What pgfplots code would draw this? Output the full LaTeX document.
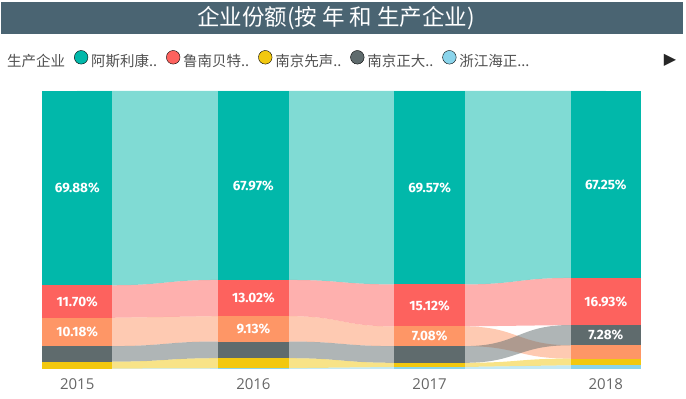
\documentclass[border=0pt]{standalone}
\usepackage{fontspec}
\usepackage{pgfplots}
\pgfplotsset{compat=1.18}
\setmainfont{Open Sans}
\newfontfamily\cjk{Noto Sans CJK SC}
\newfontfamily\labfont{Fira Sans}
\newfontfamily\symfont{DejaVu Sans}
\definecolor{tealc}{HTML}{01B8AA}
\definecolor{redc}{HTML}{FD625E}
\definecolor{yelc}{HTML}{F2C80F}
\definecolor{grayc}{HTML}{5F6B6D}
\definecolor{lbluec}{HTML}{8AD4EB}
\definecolor{orac}{HTML}{FE9666}
\definecolor{titlec}{HTML}{4A6472}
\definecolor{txtc}{HTML}{505050}
\definecolor{tickc}{HTML}{666666}
% plot handler: joins successive points by curves with horizontal tangents (ribbon edges)
\makeatletter
\def\pgfplothandlerribbon{%
  \def\pgf@plotstreamstart{%
    \global\let\pgf@plotstreampoint=\rib@first
    \global\let\pgf@plotstreamspecial=\pgfutil@gobble
    \global\let\pgf@plotstreamend=\pgfutil@empty}}
\def\rib@first#1{%
  \pgf@plot@first@action{#1}%
  \pgf@process{#1}%
  \xdef\rib@lx{\the\pgf@x}\xdef\rib@ly{\the\pgf@y}%
  \global\let\pgf@plotstreampoint=\rib@next}
\def\rib@next#1{%
  \pgf@process{#1}%
  \edef\rib@cx{\the\pgf@x}\edef\rib@cy{\the\pgf@y}%
  \pgf@xa=\rib@lx\relax \advance\pgf@xa by \rib@cx\relax \pgf@xa=0.5\pgf@xa
  \edef\rib@mx{\the\pgf@xa}%
  \pgfpathcurveto{\pgfqpoint{\rib@mx}{\rib@ly}}{\pgfqpoint{\rib@mx}{\rib@cy}}{\pgfqpoint{\rib@cx}{\rib@cy}}%
  \xdef\rib@lx{\rib@cx}\xdef\rib@ly{\rib@cy}}
\tikzset{ribbon curve/.code={\let\tikz@plot@handler=\pgfplothandlerribbon}}
\makeatother
% ribbon from year i (centre #2) to year j (centre #3):
% #1 colour, #4 top_i, #5 bottom_i, #6 top_j, #7 bottom_j ; bars are 0.4 wide
\newcommand\rib[7]{%
 \pgfmathsetmacro\xr{#2+0.2}\pgfmathsetmacro\xl{#3-0.2}%
 \addplot[forget plot, ribbon curve, fill=#1, fill opacity=0.5, draw=none]
   coordinates {(#2,#4) (\xr,#4) (\xl,#6) (#3,#6) (#3,#7) (\xl,#7) (\xr,#5) (#2,#5)} --cycle;}
% bar segment: #1 left, #2 right, #3 bottom, #4 top, #5 colour
\newcommand\seg[5]{%
 \addplot[forget plot, fill=#5, draw=none] coordinates {(#1,#3) (#2,#3) (#2,#4) (#1,#4)} --cycle;}
\begin{document}
\begin{tikzpicture}
\fill[titlec] (-41pt,367pt) rectangle (641pt,335pt);
\node[text=white, font=\cjk\fontsize{22.5}{25}\selectfont] at (294pt,351pt) {企业份额(按 年 和 生产企业)};
\begin{axis}[
  at={(0pt,0pt)}, anchor=south west,
  width=599pt, height=278pt, scale only axis,
  xmin=-0.2, xmax=3.2, ymin=0, ymax=100,
  axis line style={draw=none},
  ytick=\empty,
  xtick={0,1,2,3}, xticklabels={2015,2016,2017,2018},
  major tick length=0pt,
  xticklabel style={anchor=base, yshift=-21pt, text=tickc, font=\fontsize{15}{17}\selectfont},
  clip=true,
  legend image code/.code={\fill[#1] (6.5pt,0.35em) circle (6.8pt);},
  legend style={at={(-0.0635,1.1115)}, anchor=west, legend columns=-1,
    draw=none, fill=none, inner sep=0pt,
    font=\cjk\fontsize{14.5}{16}\selectfont, text=txtc,
    /tikz/every even column/.append style={column sep=7pt},
    /tikz/every odd column/.append style={column sep=1pt}},
]
\addlegendimage{empty legend}\addlegendentry{生产企业\hspace{4pt}}
\addlegendimage{fill=tealc}\addlegendentry{阿斯利康..}
\addlegendimage{fill=redc}\addlegendentry{鲁南贝特..}
\addlegendimage{fill=yelc}\addlegendentry{南京先声..}
\addlegendimage{fill=grayc}\addlegendentry{南京正大..}
\addlegendimage{fill=lbluec}\addlegendentry{浙江海正...}
% ribbons 2015 -> 2016
\rib{tealc}{0}{1}{100}{30.12}{100}{32.03}
\rib{redc}{0}{1}{30.12}{18.42}{32.03}{19.01}
\rib{orac}{0}{1}{18.42}{8.24}{19.01}{9.88}
\rib{grayc}{0}{1}{8.24}{2.64}{9.88}{3.88}
\rib{yelc}{0}{1}{2.64}{0.14}{3.88}{0.28}
\rib{lbluec}{0}{1}{0.14}{0}{0.28}{0}
% ribbons 2016 -> 2017
\rib{tealc}{1}{2}{100}{32.03}{100}{30.43}
\rib{redc}{1}{2}{32.03}{19.01}{30.43}{15.31}
\rib{orac}{1}{2}{19.01}{9.88}{15.31}{8.23}
\rib{grayc}{1}{2}{9.88}{3.88}{8.23}{2.23}
\rib{yelc}{1}{2}{3.88}{0.28}{2.23}{0.73}
\rib{lbluec}{1}{2}{0.28}{0}{0.73}{0}
% ribbons 2017 -> 2018
\rib{tealc}{2}{3}{100}{30.43}{100}{32.75}
\rib{redc}{2}{3}{30.43}{15.31}{32.75}{15.82}
\rib{orac}{2}{3}{15.31}{8.23}{8.54}{3.74}
\rib{grayc}{2}{3}{8.23}{2.23}{15.82}{8.54}
\rib{yelc}{2}{3}{2.23}{0.73}{3.74}{1.34}
\rib{lbluec}{2}{3}{0.73}{0}{1.34}{0}
% bars 2015
\seg{-0.2}{0.2}{0}{0.14}{lbluec}
\seg{-0.2}{0.2}{0.14}{2.64}{yelc}
\seg{-0.2}{0.2}{2.64}{8.24}{grayc}
\seg{-0.2}{0.2}{8.24}{18.42}{orac}
\seg{-0.2}{0.2}{18.42}{30.12}{redc}
\seg{-0.2}{0.2}{30.12}{100}{tealc}
% bars 2016
\seg{0.8}{1.2}{0}{0.28}{lbluec}
\seg{0.8}{1.2}{0.28}{3.88}{yelc}
\seg{0.8}{1.2}{3.88}{9.88}{grayc}
\seg{0.8}{1.2}{9.88}{19.01}{orac}
\seg{0.8}{1.2}{19.01}{32.03}{redc}
\seg{0.8}{1.2}{32.03}{100}{tealc}
% bars 2017
\seg{1.8}{2.2}{0}{0.73}{lbluec}
\seg{1.8}{2.2}{0.73}{2.23}{yelc}
\seg{1.8}{2.2}{2.23}{8.23}{grayc}
\seg{1.8}{2.2}{8.23}{15.31}{orac}
\seg{1.8}{2.2}{15.31}{30.43}{redc}
\seg{1.8}{2.2}{30.43}{100}{tealc}
% bars 2018
\seg{2.8}{3.2}{0}{1.34}{lbluec}
\seg{2.8}{3.2}{1.34}{3.74}{yelc}
\seg{2.8}{3.2}{3.74}{8.54}{orac}
\seg{2.8}{3.2}{8.54}{15.82}{grayc}
\seg{2.8}{3.2}{15.82}{32.75}{redc}
\seg{2.8}{3.2}{32.75}{100}{tealc}
% data labels
\addplot[forget plot, only marks, mark=*, mark size=0pt, mark options={draw=none, fill=none},
  nodes near coords, point meta=explicit symbolic, nodes near coords align={center},
  every node near coord/.append style={text=white, inner sep=0pt, font=\labfont\bfseries\fontsize{13.5}{15}\selectfont}]
  coordinates {
   (0,65.06) [69.88\%] (0,24.27) [11.70\%] (0,13.33) [10.18\%]
   (1,66.02) [67.97\%] (1,25.52) [13.02\%] (1,14.45) [9.13\%]
   (2,65.22) [69.57\%] (2,22.87) [15.12\%] (2,11.77) [7.08\%]
   (3,66.38) [67.25\%] (3,24.29) [16.93\%] (3,12.18) [7.28\%]
  };
\end{axis}
\node[text=black!85, font=\symfont\fontsize{16}{18}\selectfont] at (628pt,309pt) {▶};
\pgfresetboundingbox
\useasboundingbox (-42pt,-30pt) rectangle (644pt,369pt);
\end{tikzpicture}
\end{document}
